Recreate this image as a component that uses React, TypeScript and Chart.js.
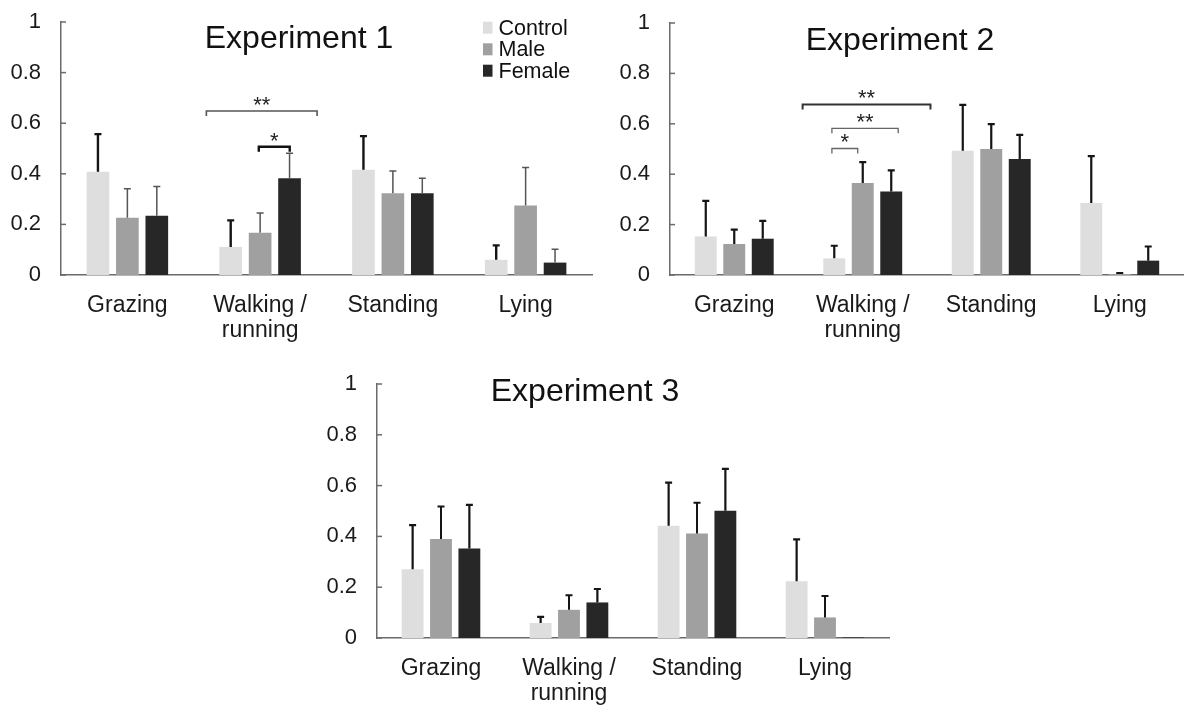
import React, { useEffect, useRef } from 'react';
import { Chart, registerables } from 'chart.js';

Chart.register(...registerables);

// ---------- DATA ----------
const categories: string[][] = [['Grazing'], ['Walking /', 'running'], ['Standing'], ['Lying']];
const seriesNames = ['Control', 'Male', 'Female'];
const yTickLabels = ['0', '0.2', '0.4', '0.6', '0.8', '1'];

const exp1Control = [0.408, 0.111, 0.416, 0.06];
const exp1ControlErr = [0.149, 0.105, 0.133, 0.057];
const exp1Male = [0.226, 0.167, 0.323, 0.275];
const exp1MaleErr = [0.115, 0.078, 0.088, 0.15];
const exp1Female = [0.234, 0.382, 0.323, 0.049];
const exp1FemaleErr = [0.116, 0.099, 0.059, 0.053];

const exp2Control = [0.153, 0.066, 0.493, 0.286];
const exp2ControlErr = [0.141, 0.05, 0.182, 0.186];
const exp2Male = [0.123, 0.365, 0.5, 0.004];
const exp2MaleErr = [0.057, 0.083, 0.099, 0.004];
const exp2Female = [0.144, 0.331, 0.46, 0.057];
const exp2FemaleErr = [0.071, 0.084, 0.096, 0.056];

const exp3Control = [0.271, 0.059, 0.442, 0.223];
const exp3ControlErr = [0.173, 0.024, 0.17, 0.165];
const exp3Male = [0.39, 0.111, 0.411, 0.081];
const exp3MaleErr = [0.128, 0.057, 0.121, 0.084];
const exp3Female = [0.352, 0.14, 0.501, 0.002];
const exp3FemaleErr = [0.172, 0.053, 0.165, 0];

// significance brackets: category-axis start/end, value-axis height, label
const exp1Brackets = [
  { x1: 0.595, x2: 1.429, y: 0.648, label: '**' },
  { x1: 0.99, x2: 1.223, y: 0.507, label: '*' },
];
const exp2Brackets = [
  { x1: 0.532, x2: 1.527, y: 0.677, label: '**' },
  { x1: 0.76, x2: 1.276, y: 0.582, label: '**' },
  { x1: 0.76, x2: 0.961, y: 0.502, label: '*' },
];
const exp3Brackets: { x1: number; x2: number; y: number; label: string }[] = [];

const titles = ['Experiment 1', 'Experiment 2', 'Experiment 3'];

// ---------- STYLE ----------
const FONT = "'Liberation Sans', Arial, Helvetica, sans-serif";
const barColors = ['#dedede', '#a0a0a0', '#272727'];

type Spec = {
  left: number; top: number; w: number; h: number;
  axisLeft: number; padTop: number; padRight: number; xAxisH: number;
  title: string; titleX: number; titleY: number;
  values: number[][]; errors: number[][];
  errColors: string[]; errWidths: number[];
  brackets: { x1: number; x2: number; y: number; label: string }[];
  bracketColors: string[]; bracketWidths: number[];
  legend: boolean;
};

const specs: Spec[] = [
  {
    left: 0, top: 0, w: 600, h: 355,
    axisLeft: 61, padTop: 22, padRight: 8, xAxisH: 80,
    title: titles[0], titleX: 299, titleY: 48,
    values: [exp1Control, exp1Male, exp1Female],
    errors: [exp1ControlErr, exp1MaleErr, exp1FemaleErr],
    errColors: ['#151515', '#555555', '#555555'], errWidths: [2.4, 1.5, 1.5],
    brackets: exp1Brackets, bracketColors: ['#555555', '#111111'], bracketWidths: [1.6, 2.4],
    legend: true,
  },
  {
    left: 600, top: 0, w: 584, h: 355,
    axisLeft: 70, padTop: 23, padRight: 0, xAxisH: 80,
    title: titles[1], titleX: 300, titleY: 50,
    values: [exp2Control, exp2Male, exp2Female],
    errors: [exp2ControlErr, exp2MaleErr, exp2FemaleErr],
    errColors: ['#151515', '#151515', '#151515'], errWidths: [2.2, 2.2, 2.2],
    brackets: exp2Brackets, bracketColors: ['#333333', '#666666', '#666666'], bracketWidths: [2, 1.3, 1.3],
    legend: false,
  },
  {
    left: 300, top: 355, w: 600, h: 351,
    axisLeft: 77, padTop: 29, padRight: 11, xAxisH: 68,
    title: titles[2], titleX: 285, titleY: 46,
    values: [exp3Control, exp3Male, exp3Female],
    errors: [exp3ControlErr, exp3MaleErr, exp3FemaleErr],
    errColors: ['#151515', '#151515', '#151515'], errWidths: [2.2, 2, 2.2],
    brackets: exp3Brackets, bracketColors: [], bracketWidths: [],
    legend: false,
  },
];

function makeDecor(spec: Spec) {
  return {
    id: 'decor',
    afterDatasetsDraw(chart: any) {
      const ctx = chart.ctx;
      const xs = chart.scales.x;
      const ys = chart.scales.y;
      // error bars (upper only)
      chart.data.datasets.forEach((ds: any, di: number) => {
        const meta = chart.getDatasetMeta(di);
        meta.data.forEach((bar: any, i: number) => {
          const v = ds.data[i];
          const e = spec.errors[di][i];
          if (!e) return;
          const yTop = ys.getPixelForValue(v + e);
          ctx.save();
          ctx.strokeStyle = spec.errColors[di];
          ctx.lineWidth = spec.errWidths[di];
          ctx.beginPath();
          ctx.moveTo(bar.x, bar.y);
          ctx.lineTo(bar.x, yTop);
          ctx.moveTo(bar.x - 3.5, yTop);
          ctx.lineTo(bar.x + 3.5, yTop);
          ctx.stroke();
          ctx.restore();
        });
      });
      // brackets
      spec.brackets.forEach((b, k) => {
        const px1 = xs.getPixelForValue(b.x1);
        const px2 = xs.getPixelForValue(b.x2);
        const py = ys.getPixelForValue(b.y);
        ctx.save();
        ctx.strokeStyle = spec.bracketColors[k];
        ctx.lineWidth = spec.bracketWidths[k];
        ctx.beginPath();
        ctx.moveTo(px1, py + 5);
        ctx.lineTo(px1, py);
        ctx.lineTo(px2, py);
        ctx.lineTo(px2, py + 5);
        ctx.stroke();
        ctx.fillStyle = '#222';
        ctx.font = `22px ${FONT}`;
        ctx.textAlign = 'center';
        ctx.textBaseline = 'alphabetic';
        ctx.fillText(b.label, (px1 + px2) / 2, py + 1);
        ctx.restore();
      });
    },
    afterDraw(chart: any) {
      const ctx = chart.ctx;
      const ys = chart.scales.y;
      const area = chart.chartArea;
      ctx.save();
      // inner y tick marks
      ctx.strokeStyle = '#6b6b6b';
      ctx.lineWidth = 1.5;
      ys.ticks.forEach((t: any) => {
        const py = ys.getPixelForValue(t.value);
        ctx.beginPath();
        ctx.moveTo(area.left, py);
        ctx.lineTo(area.left + 5, py);
        ctx.stroke();
      });
      // title
      ctx.fillStyle = '#111';
      ctx.font = `32px ${FONT}`;
      ctx.textAlign = 'center';
      ctx.textBaseline = 'alphabetic';
      ctx.fillText(spec.title, spec.titleX, spec.titleY);
      // legend
      if (spec.legend) {
        const rows = [27.7, 49.3, 70.7];
        ctx.font = `21.5px ${FONT}`;
        ctx.textAlign = 'left';
        ctx.textBaseline = 'middle';
        seriesNames.forEach((name, i) => {
          ctx.fillStyle = barColors[i];
          ctx.fillRect(483, rows[i] - 6, 9.5, 12);
          ctx.fillStyle = '#111';
          ctx.fillText(name, 498.5, rows[i] + 1);
        });
      }
      ctx.restore();
    },
  };
}

function ExpChart({ spec }: { spec: Spec }) {
  const ref = useRef<HTMLCanvasElement>(null);
  useEffect(() => {
    if (!ref.current) return;
    const chart = new Chart(ref.current, {
      type: 'bar',
      data: {
        labels: categories,
        datasets: spec.values.map((vals, i) => ({
          label: seriesNames[i],
          data: vals,
          backgroundColor: barColors[i],
          borderWidth: 0,
          categoryPercentage: 0.665,
          barPercentage: 0.77,
        })),
      },
      options: {
        responsive: false,
        animation: false,
        devicePixelRatio: 1,
        layout: { padding: { left: 0, top: spec.padTop, right: spec.padRight, bottom: 0 } },
        plugins: { legend: { display: false }, tooltip: { enabled: false }, title: { display: false } },
        scales: {
          x: {
            type: 'category',
            offset: true,
            grid: { display: false, drawTicks: false },
            border: { display: true, color: '#6b6b6b', width: 1.5 },
            ticks: {
              color: '#1a1a1a',
              font: { family: FONT, size: 23, lineHeight: 1.05 },
              padding: 19,
              maxRotation: 0,
              autoSkip: false,
            },
            afterFit: (s: any) => {
              s.height = spec.xAxisH;
              s.paddingLeft = 0;
              s.paddingRight = 0;
            },
          },
          y: {
            min: 0,
            max: 1,
            grid: { display: false, drawTicks: false },
            border: { display: true, color: '#6b6b6b', width: 1.5 },
            ticks: {
              stepSize: 0.2,
              color: '#1a1a1a',
              font: { family: FONT, size: 22 },
              padding: 20,
              callback: (_v: any, i: number) => yTickLabels[i],
            },
            afterFit: (s: any) => {
              s.width = spec.axisLeft;
              s.paddingTop = 0;
              s.paddingBottom = 0;
            },
          },
        },
      },
      plugins: [makeDecor(spec)],
    } as any);
    return () => chart.destroy();
  }, []);
  return (
    <canvas
      ref={ref}
      width={spec.w}
      height={spec.h}
      style={{ position: 'absolute', left: spec.left, top: spec.top, width: spec.w, height: spec.h }}
    />
  );
}

export default function App() {
  return (
    <div style={{ position: 'fixed', left: 0, top: 0, width: 1184, height: 706, background: '#fff', overflow: 'hidden' }}>
      {specs.map((s, i) => (
        <ExpChart key={i} spec={s} />
      ))}
    </div>
  );
}
